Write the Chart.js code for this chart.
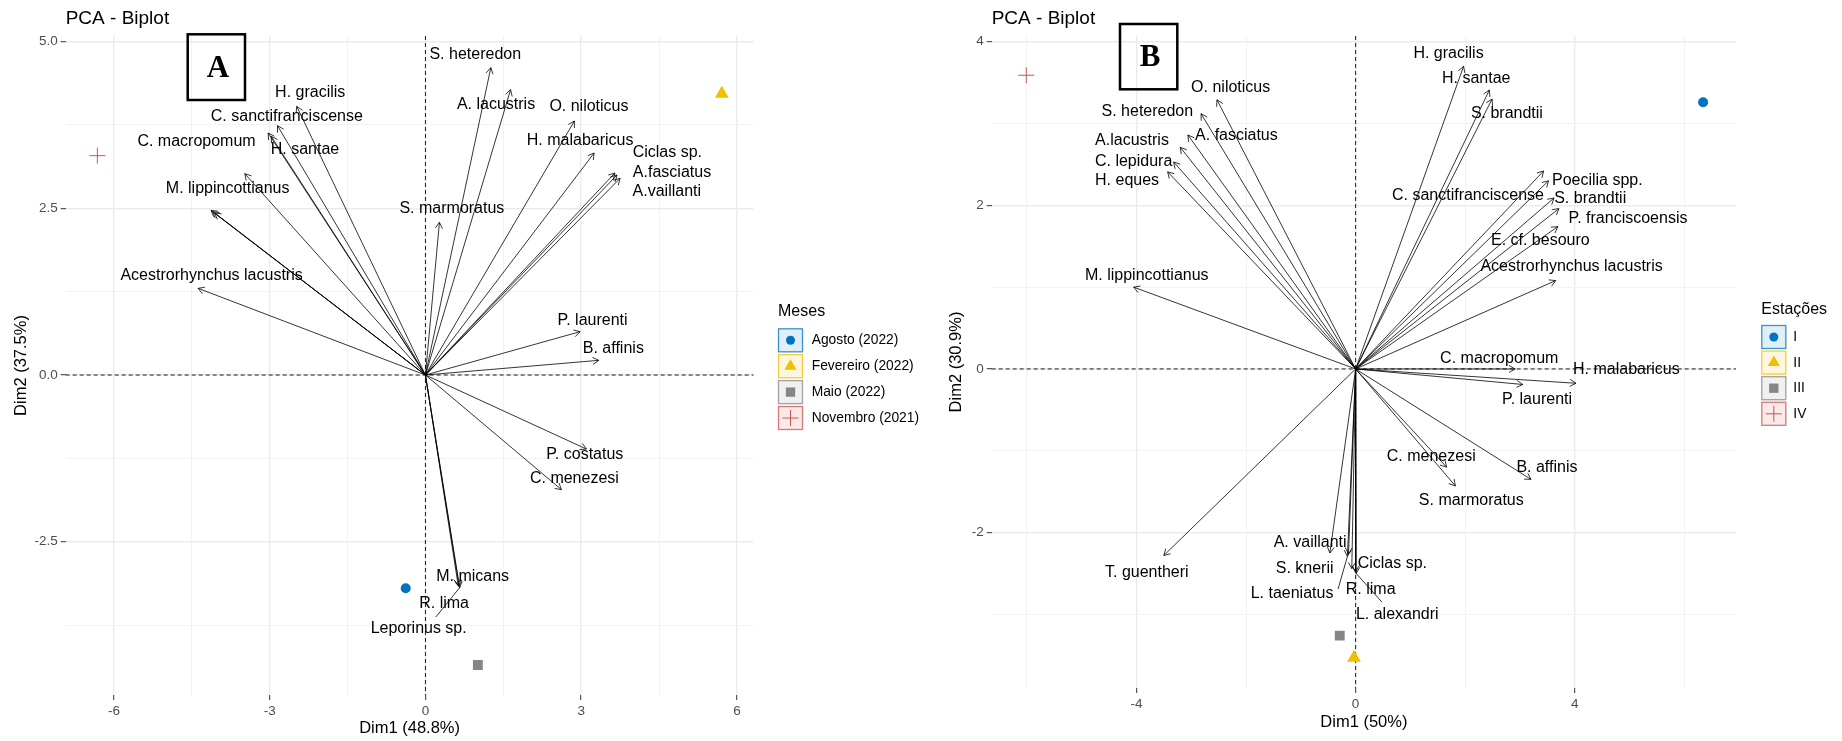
<!DOCTYPE html>
<html>
<head>
<meta charset="utf-8">
<title>PCA - Biplot</title>
<script src="https://cdn.jsdelivr.net/npm/chart.js@4.4.1/dist/chart.umd.min.js"></script>
<style>
  body { margin: 0; background: #fff; }
  #wrap { position: relative; width: 1842px; height: 741px; }
  canvas { position: absolute; top: 0; }
  #chartA { left: 0; }
  #chartB { left: 940px; }
</style>
</head>
<body>
<div id="wrap">
  <canvas id="chartA" width="940" height="741"></canvas>
  <canvas id="chartB" width="902" height="741"></canvas>
</div>
<script>
// painel A - meses
var aNames = ['S. heteredon', 'A. lacustris', 'O. niloticus', 'H. malabaricus', 'Ciclas sp.', 'A.fasciatus', 'A.vaillanti',
  'H. gracilis', 'C. sanctifranciscense', 'C. macropomum', 'H. santae', 'M. lippincottianus', 'S. marmoratus',
  'Acestrorhynchus lacustris', 'P. laurenti', 'B. affinis', 'P. costatus', 'C. menezesi', 'M. micans', 'R. lima',
  'Leporinus sp.', '', '', ''];
var aDim1 = [1.26, 1.64, 2.87, 3.25, 3.65, 3.69, 3.75, -2.48, -2.85, -3.03, -2.97, -3.48, 0.27, -4.38, 2.98, 3.34, 3.10, 2.62, 0.65, 0.63, 0.66, -4.10, -4.06, -4.13];
var aDim2 = [4.61, 4.28, 3.81, 3.33, 3.03, 3.00, 2.95, 4.03, 3.74, 3.63, 3.58, 3.02, 2.29, 1.30, 0.65, 0.22, -1.11, -1.72, -3.17, -3.15, -3.19, 2.45, 2.43, 2.47];
var aLabX = [0.96, 1.36, 3.15, 2.98, 4.66, 4.75, 4.65, -2.22, -2.67, -4.41, -2.32, -3.81, 0.51, -4.12, 3.22, 3.62, 3.07, 2.87, 0.91, 0.36, -0.13, null, null, null];
var aLabY = [4.81, 4.06, 4.02, 3.51, 3.33, 3.03, 2.75, 4.24, 3.87, 3.50, 3.38, 2.79, 2.49, 1.49, 0.82, 0.40, -1.19, -1.56, -3.03, -3.43, -3.80, null, null, null];
var aSegIndex = [20];
var aSegX = [0.20];
var aSegY = [-3.63];
var aGroups = ['Agosto (2022)', 'Fevereiro (2022)', 'Maio (2022)', 'Novembro (2021)'];
var aGroupDim1 = [-0.38, 5.71, 1.01, -6.32];
var aGroupDim2 = [-3.20, 4.22, -4.35, 3.29];
var aXTicks = [-6, -3, 0, 3, 6];
var aXMinor = [-4.5, -1.5, 1.5, 4.5];
var aYTicks = [-2.5, 0, 2.5, 5];
var aYTickLabels = ['-2.5', '0.0', '2.5', '5.0'];
var aYMinor = [-3.75, -1.25, 1.25, 3.75];

// painel B - estacoes
var bNames = ['O. niloticus', 'S. heteredon', 'A. fasciatus', 'A.lacustris', 'C. lepidura', 'H. eques', 'M. lippincottianus',
  'H. gracilis', 'H. santae', 'S. brandtii', 'C. sanctifranciscense', 'Poecilia spp.', 'S. brandtii', 'P. franciscoensis',
  'E. cf. besouro', 'Acestrorhynchus lacustris', 'C. macropomum', 'H. malabaricus', 'P. laurenti', 'C. menezesi',
  'S. marmoratus', 'B. affinis', 'T. guentheri', 'A. vaillanti', 'S. knerii', 'L. taeniatus', 'Ciclas sp.', 'R. lima', 'L. alexandri'];
var bDim1 = [-2.53, -2.82, -3.06, -3.20, -3.32, -3.43, -4.05, 1.97, 2.44, 2.49, 3.43, 3.52, 3.62, 3.71, 3.69, 3.65, 2.91, 4.02, 3.05, 1.66, 1.82, 3.20, -3.50, -0.47, -0.13, -0.15, 0.00, -0.07, 0.01];
var bDim2 = [3.29, 3.12, 2.86, 2.71, 2.53, 2.41, 1.00, 3.70, 3.41, 3.30, 2.42, 2.30, 2.09, 1.96, 1.74, 1.08, 0.00, -0.175, -0.19, -1.20, -1.43, -1.35, -2.28, -2.25, -2.26, -2.29, -2.48, -2.44, -2.50];
var bLabX = [-2.28, -3.80, -2.175, -4.08, -4.05, -4.17, -3.81, 1.695, 2.20, 2.76, 2.05, 4.41, 4.28, 4.97, 3.37, 3.94, 2.62, 4.94, 3.31, 1.38, 2.11, 3.49, -3.81, -0.83, -0.93, -1.16, 0.67, 0.275, 0.76];
var bLabY = [3.44, 3.14, 2.85, 2.79, 2.54, 2.30, 1.14, 3.85, 3.545, 3.125, 2.115, 2.30, 2.08, 1.84, 1.565, 1.25, 0.13, -0.01, -0.37, -1.07, -1.61, -1.21, -2.485, -2.12, -2.44, -2.74, -2.375, -2.70, -3.00];
var bSegIndex = [25, 28];
var bSegX = [-0.32, 0.48];
var bSegY = [-2.69, -2.85];
var bGroups = ['I', 'II', 'III', 'IV'];
var bGroupDim1 = [6.34, -0.03, -0.29, -6.01];
var bGroupDim2 = [3.26, -3.53, -3.26, 3.59];
var bXTicks = [-4, 0, 4];
var bXMinor = [-6, -2, 2, 6];
var bYTicks = [-2, 0, 2, 4];
var bYTickLabels = ['-2', '0', '2', '4'];
var bYMinor = [-3, -1, 1, 3];

var groupColors = ['#0073C2', '#EFC000', '#868686', '#CD534C'];
var groupShapes = ['circle', 'triangle', 'rect', 'cross'];
var groupRadius = [5, 8, 7, 8];

Chart.defaults.font.family = "'Liberation Sans', Arial, sans-serif";
Chart.defaults.color = '#000';

function rgba(hex, a) {
  var n = parseInt(hex.slice(1), 16);
  return 'rgba(' + (n >> 16) + ',' + ((n >> 8) & 255) + ',' + (n & 255) + ',' + a + ')';
}

function drawMark(ctx, shape, x, y, r, color) {
  ctx.fillStyle = color;
  ctx.strokeStyle = color;
  ctx.beginPath();
  if (shape == 'circle') {
    ctx.arc(x, y, r, 0, Math.PI * 2);
    ctx.fill();
  } else if (shape == 'triangle') {
    ctx.moveTo(x, y - r);
    ctx.lineTo(x + r * 0.866, y + r * 0.5);
    ctx.lineTo(x - r * 0.866, y + r * 0.5);
    ctx.closePath();
    ctx.fill();
  } else if (shape == 'rect') {
    var s = r * Math.SQRT1_2;
    ctx.rect(x - s, y - s, 2 * s, 2 * s);
    ctx.fill();
  } else {
    ctx.lineWidth = 1;
    ctx.moveTo(x - r, y); ctx.lineTo(x + r, y);
    ctx.moveTo(x, y - r); ctx.lineTo(x, y + r);
    ctx.stroke();
  }
}

function tickList(major, minor) {
  return major.map(function(v){ return {value: v, minor: false}; })
    .concat(minor.map(function(v){ return {value: v, minor: true}; }));
}

function makeAxis(c, dir) {
  var major = dir == 'x' ? c.xTicks : c.yTicks;
  var minor = dir == 'x' ? c.xMinor : c.yMinor;
  var labels = dir == 'x' ? c.xTicks.map(String) : c.yTickLabels;
  return {
    type: 'linear',
    position: dir == 'x' ? 'bottom' : 'left',
    min: dir == 'x' ? c.xMin : c.yMin,
    max: dir == 'x' ? c.xMax : c.yMax,
    afterBuildTicks: function(s){ s.ticks = tickList(major, minor); },
    afterFit: function(s){
      if (dir == 'x') s.height = c.xHeight; else s.width = c.yWidth;
    },
    border: { display: false },
    grid: {
      color: function(ctx){ return ctx.tick && ctx.tick.minor ? '#F2F2F2' : '#EBEBEB'; },
      lineWidth: function(ctx){ return ctx.tick && ctx.tick.minor ? 1 : 1.4; },
      tickColor: function(ctx){ return ctx.tick && ctx.tick.minor ? 'rgba(0,0,0,0)' : '#333'; },
      tickWidth: 1,
      tickLength: 5
    },
    ticks: {
      autoSkip: false,
      maxRotation: 0,
      padding: 3,
      color: '#4D4D4D',
      font: { size: 13.5 },
      callback: function(v){ var i = major.indexOf(v); return i < 0 ? '' : labels[i]; }
    },
    title: {
      display: true,
      text: dir == 'x' ? c.xTitle : c.yTitle,
      color: '#000',
      font: { size: 16.5 },
      padding: { top: 4, bottom: 2 }
    }
  };
}

function biplot(id, c) {
  var datasets = [];
  c.dim1.forEach(function(x, i){
    datasets.push({
      data: [{x: 0, y: 0}, {x: x, y: c.dim2[i]}],
      showLine: true, pointRadius: 0, borderColor: '#000', borderWidth: 0.8, arrow: true
    });
  });
  c.groups.forEach(function(g, i){
    datasets.push({
      label: g,
      data: [{x: c.gx[i], y: c.gy[i]}],
      pointStyle: groupShapes[i], pointRadius: groupRadius[i],
      backgroundColor: groupColors[i], borderColor: groupColors[i],
      borderWidth: groupShapes[i] == 'cross' ? 1 : 0
    });
  });

  var extras = {
    id: 'biplotExtras',
    beforeDatasetsDraw: function(chart){
      var ctx = chart.ctx, a = chart.chartArea;
      var x0 = chart.scales.x.getPixelForValue(0), y0 = chart.scales.y.getPixelForValue(0);
      ctx.save();
      ctx.strokeStyle = '#000';
      ctx.lineWidth = 0.9;
      ctx.setLineDash([4, 3]);
      ctx.beginPath();
      ctx.moveTo(x0, a.top); ctx.lineTo(x0, a.bottom);
      ctx.moveTo(a.left, y0); ctx.lineTo(a.right, y0);
      ctx.stroke();
      ctx.restore();
    },
    afterDatasetsDraw: function(chart){
      var ctx = chart.ctx, xs = chart.scales.x, ys = chart.scales.y;
      ctx.save();
      ctx.strokeStyle = '#000';
      ctx.lineWidth = 0.8;
      chart.data.datasets.forEach(function(ds, i){
        if (!ds.arrow) return;
        var p = chart.getDatasetMeta(i).data;
        var ang = Math.atan2(p[1].y - p[0].y, p[1].x - p[0].x);
        ctx.beginPath();
        ctx.moveTo(p[1].x - 7 * Math.cos(ang - Math.PI / 6), p[1].y - 7 * Math.sin(ang - Math.PI / 6));
        ctx.lineTo(p[1].x, p[1].y);
        ctx.lineTo(p[1].x - 7 * Math.cos(ang + Math.PI / 6), p[1].y - 7 * Math.sin(ang + Math.PI / 6));
        ctx.stroke();
      });
      // segmentos ligando rotulo a seta
      c.segIndex.forEach(function(k, j){
        ctx.beginPath();
        ctx.moveTo(xs.getPixelForValue(c.dim1[k]), ys.getPixelForValue(c.dim2[k]));
        ctx.lineTo(xs.getPixelForValue(c.segX[j]), ys.getPixelForValue(c.segY[j]));
        ctx.stroke();
      });
      ctx.fillStyle = '#000';
      ctx.font = "16px 'Liberation Sans', Arial, sans-serif";
      ctx.textAlign = 'center';
      ctx.textBaseline = 'middle';
      c.names.forEach(function(n, i){
        if (!n || c.labX[i] == null) return;
        ctx.fillText(n, xs.getPixelForValue(c.labX[i]), ys.getPixelForValue(c.labY[i]));
      });
      ctx.restore();
    },
    afterDraw: function(chart){
      var ctx = chart.ctx, lg = c.legend, bx = c.letterBox;
      ctx.save();
      ctx.textAlign = 'left';
      ctx.textBaseline = 'middle';
      ctx.fillStyle = '#000';
      ctx.font = "16px 'Liberation Sans', Arial, sans-serif";
      ctx.fillText(c.legendTitle, lg.x, lg.titleY);
      c.groups.forEach(function(g, i){
        var top = lg.top + i * lg.step;
        ctx.fillStyle = rgba(groupColors[i], 0.12);
        ctx.fillRect(lg.x, top, 25, 24);
        ctx.strokeStyle = rgba(groupColors[i], 0.75);
        ctx.lineWidth = 1.3;
        ctx.strokeRect(lg.x + 0.5, top + 0.5, 24, 23);
        var r = [4.5, 7, 6.6, 8][i];
        drawMark(ctx, groupShapes[i], lg.x + 12.5, top + 12, r, groupColors[i]);
        ctx.fillStyle = '#000';
        ctx.font = "13.8px 'Liberation Sans', Arial, sans-serif";
        ctx.fillText(g, lg.labelX, top + 12.3);
      });
      ctx.lineWidth = 2.5;
      ctx.strokeStyle = '#000';
      ctx.strokeRect(bx.x, bx.y, bx.w, bx.h);
      ctx.fillStyle = '#000';
      ctx.textAlign = 'center';
      ctx.font = "bold 31px 'Liberation Serif', 'Times New Roman', serif";
      ctx.fillText(c.letter, bx.x + bx.w / 2 + 1.5, bx.y + bx.h / 2 + 1.5);
      ctx.restore();
    }
  };

  return new Chart(document.getElementById(id), {
    type: 'scatter',
    data: { datasets: datasets },
    plugins: [extras],
    options: {
      responsive: false,
      animation: false,
      events: [],
      layout: { padding: c.padding },
      plugins: {
        legend: { display: false },
        tooltip: { enabled: false },
        title: {
          display: true,
          text: 'PCA - Biplot',
          align: 'start',
          fullSize: false,
          color: '#000',
          font: { size: 19, weight: 'normal' },
          padding: { top: 6.9, bottom: 6.3 }
        }
      },
      scales: {
        x: makeAxis(c, 'x'),
        y: makeAxis(c, 'y')
      }
    }
  });
}

biplot('chartA', {
  names: aNames, dim1: aDim1, dim2: aDim2, labX: aLabX, labY: aLabY,
  segIndex: aSegIndex, segX: aSegX, segY: aSegY,
  groups: aGroups, gx: aGroupDim1, gy: aGroupDim2,
  xTicks: aXTicks, xMinor: aXMinor, yTicks: aYTicks, yTickLabels: aYTickLabels, yMinor: aYMinor,
  xMin: -6.93, xMax: 6.32, yMin: -4.8, yMax: 5.085,
  xTitle: 'Dim1 (48.8%)', yTitle: 'Dim2 (37.5%)',
  padding: { left: 8, right: 186.5, top: 0, bottom: 0.8 },
  xHeight: 45.2, yWidth: 57.7,
  legendTitle: 'Meses',
  legend: { x: 778, titleY: 311.7, top: 328.3, step: 25.9, labelX: 811.7 },
  letter: 'A',
  letterBox: { x: 187.7, y: 34.3, w: 57.3, h: 65.7 }
});

biplot('chartB', {
  names: bNames, dim1: bDim1, dim2: bDim2, labX: bLabX, labY: bLabY,
  segIndex: bSegIndex, segX: bSegX, segY: bSegY,
  groups: bGroups, gx: bGroupDim1, gy: bGroupDim2,
  xTicks: bXTicks, xMinor: bXMinor, yTicks: bYTicks, yTickLabels: bYTickLabels, yMinor: bYMinor,
  xMin: -6.64, xMax: 6.94, yMin: -3.9, yMax: 4.07,
  xTitle: 'Dim1 (50%)', yTitle: 'Dim2 (30.9%)',
  padding: { left: 3, right: 106, top: 0, bottom: 6.4 },
  xHeight: 46.6, yWidth: 48.7,
  legendTitle: 'Estações',
  legend: { x: 821.3, titleY: 310, top: 325, step: 25.6, labelX: 853.3 },
  letter: 'B',
  letterBox: { x: 180, y: 24, w: 57.3, h: 65.3 }
});
</script>
</body>
</html>
